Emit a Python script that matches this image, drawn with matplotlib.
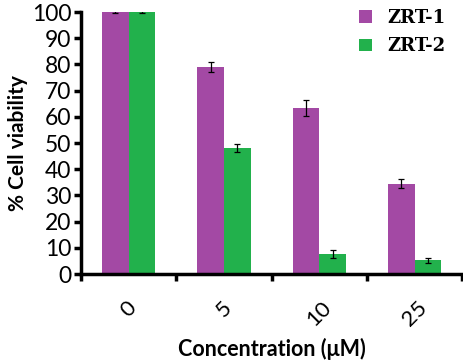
import matplotlib.pyplot as plt
import numpy as np

# Data
concentrations = ["0", "5", "10", "25"]
zrt1_values = [100.0, 79.0, 63.5, 34.5]
zrt1_errors = [0.3, 1.8, 3.0, 1.8]
zrt2_values = [100.0, 48.0, 7.6, 5.3]
zrt2_errors = [0.3, 1.6, 1.5, 1.0]

purple = '#A349A4'
green = '#22B14C'

plt.rcParams['font.family'] = ['Lato', 'DejaVu Sans']

fig = plt.figure(figsize=(4.64, 3.64), dpi=100)
ax = fig.add_axes([0.175, 0.247, 0.821, 0.72])

x = np.arange(len(concentrations))
width = 0.28

ax.bar(x - width / 2, zrt1_values, width, color=purple, label='ZRT-1',
       yerr=zrt1_errors, error_kw=dict(ecolor='black', elinewidth=0.9, capsize=2.5, capthick=0.9))
ax.bar(x + width / 2, zrt2_values, width, color=green, label='ZRT-2',
       yerr=zrt2_errors, error_kw=dict(ecolor='black', elinewidth=0.9, capsize=2.5, capthick=0.9))

ax.set_xlim(-0.5, len(concentrations) - 0.5)
ax.set_ylim(0, 100)
ax.set_yticks(np.arange(0, 101, 10))

# category boundary ticks, labels at centers
ax.set_xticks(np.arange(-0.5, len(concentrations), 1.0))
ax.set_xticklabels([])
ax.set_xticks(x, minor=True)
ax.set_xticklabels(concentrations, minor=True, rotation=45, fontsize=16)
ax.tick_params(axis='x', which='minor', length=0, pad=17)
ax.tick_params(axis='x', which='major', length=5, width=2.5, direction='out')
ax.tick_params(axis='y', length=5, width=2.5, labelsize=16.5, pad=2)

for side in ['top', 'right']:
    ax.spines[side].set_visible(False)
for side in ['left', 'bottom']:
    ax.spines[side].set_linewidth(2.5)

ax.set_xlabel('Concentration (μM)', fontsize=15.5, fontweight='bold', labelpad=6)
ax.set_ylabel('% Cell viability', fontsize=15, fontweight='bold', labelpad=3)

leg = ax.legend(loc='upper right', bbox_to_anchor=(1.0, 1.075), frameon=False,
                handlelength=0.7, handleheight=0.7, handletextpad=0.9, labelspacing=0.6,
                prop={'family': 'DejaVu Serif', 'weight': 'bold', 'size': 13})

fig.savefig('out.png', dpi=100)
